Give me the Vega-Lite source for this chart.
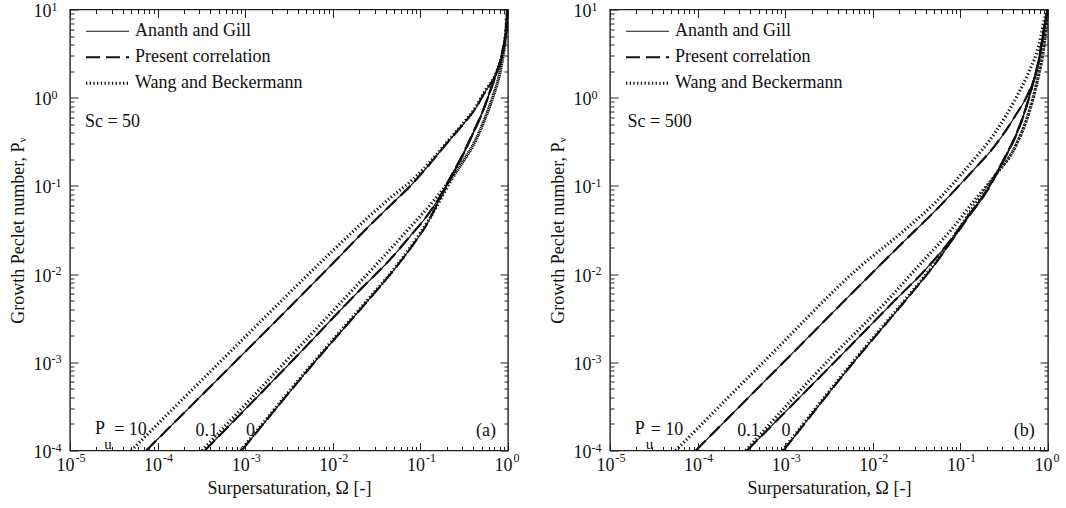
{
  "$schema": "https://vega.github.io/schema/vega-lite/v6.json",
  "background": "white",
  "padding": {"left": 8, "top": -1.5, "right": 5, "bottom": 5},
  "spacing": 28,
  "config": {
    "view": {"stroke": "#222", "strokeWidth": 1.4},
    "font": "Liberation Serif",
    "axis": {"labelFont": "Liberation Serif", "titleFont": "Liberation Serif", "labelFontSize": 18, "titleFontSize": 18, "titleFontWeight": "normal", "labelColor": "#111", "titleColor": "#111", "tickColor": "#222", "grid": false, "domain": false, "labelFlush": false, "labelOverlap": false, "labelBound": false},
    "legend": {"labelFont": "Liberation Serif", "labelFontSize": 18, "labelColor": "#111", "labelLimit": 0}
  },
  "datasets": {
    "curves": [
      {"Sc":50,"method":"Ananth and Gill","Pu":"10","omega":7.41e-5,"Pv":1e-4},
      {"Sc":50,"method":"Ananth and Gill","Pu":"10","omega":7.94e-4,"Pv":1.047e-3},
      {"Sc":50,"method":"Ananth and Gill","Pu":"10","omega":8.91e-3,"Pv":1.175e-2},
      {"Sc":50,"method":"Ananth and Gill","Pu":"10","omega":2.818e-2,"Pv":3.8e-2},
      {"Sc":50,"method":"Ananth and Gill","Pu":"10","omega":5.13e-2,"Pv":6.76e-2},
      {"Sc":50,"method":"Ananth and Gill","Pu":"10","omega":7.94e-2,"Pv":0.1035},
      {"Sc":50,"method":"Ananth and Gill","Pu":"10","omega":0.1259,"Pv":0.1738},
      {"Sc":50,"method":"Ananth and Gill","Pu":"10","omega":0.195,"Pv":0.295},
      {"Sc":50,"method":"Ananth and Gill","Pu":"10","omega":0.302,"Pv":0.49},
      {"Sc":50,"method":"Ananth and Gill","Pu":"10","omega":0.427,"Pv":0.759},
      {"Sc":50,"method":"Ananth and Gill","Pu":"10","omega":0.55,"Pv":1.175},
      {"Sc":50,"method":"Ananth and Gill","Pu":"10","omega":0.724,"Pv":1.82},
      {"Sc":50,"method":"Ananth and Gill","Pu":"10","omega":0.861,"Pv":3.09},
      {"Sc":50,"method":"Ananth and Gill","Pu":"10","omega":0.955,"Pv":6.31},
      {"Sc":50,"method":"Ananth and Gill","Pu":"10","omega":0.9886,"Pv":10},
      {"Sc":50,"method":"Ananth and Gill","Pu":"0.1","omega":3.467e-4,"Pv":1e-4},
      {"Sc":50,"method":"Ananth and Gill","Pu":"0.1","omega":3.548e-3,"Pv":1.072e-3},
      {"Sc":50,"method":"Ananth and Gill","Pu":"0.1","omega":2.153e-2,"Pv":6.98e-3},
      {"Sc":50,"method":"Ananth and Gill","Pu":"0.1","omega":4.365e-2,"Pv":1.413e-2},
      {"Sc":50,"method":"Ananth and Gill","Pu":"0.1","omega":7.94e-2,"Pv":2.818e-2},
      {"Sc":50,"method":"Ananth and Gill","Pu":"0.1","omega":0.1148,"Pv":4.365e-2},
      {"Sc":50,"method":"Ananth and Gill","Pu":"0.1","omega":0.1622,"Pv":7.24e-2},
      {"Sc":50,"method":"Ananth and Gill","Pu":"0.1","omega":0.2291,"Pv":0.1349},
      {"Sc":50,"method":"Ananth and Gill","Pu":"0.1","omega":0.302,"Pv":0.2239},
      {"Sc":50,"method":"Ananth and Gill","Pu":"0.1","omega":0.389,"Pv":0.38},
      {"Sc":50,"method":"Ananth and Gill","Pu":"0.1","omega":0.513,"Pv":0.7},
      {"Sc":50,"method":"Ananth and Gill","Pu":"0.1","omega":0.603,"Pv":1.081},
      {"Sc":50,"method":"Ananth and Gill","Pu":"0.1","omega":0.724,"Pv":1.82},
      {"Sc":50,"method":"Ananth and Gill","Pu":"0.1","omega":0.861,"Pv":3.31},
      {"Sc":50,"method":"Ananth and Gill","Pu":"0.1","omega":0.977,"Pv":7.24},
      {"Sc":50,"method":"Ananth and Gill","Pu":"0.1","omega":0.993,"Pv":10},
      {"Sc":50,"method":"Ananth and Gill","Pu":"0","omega":9.12e-4,"Pv":1e-4},
      {"Sc":50,"method":"Ananth and Gill","Pu":"0","omega":6.17e-3,"Pv":1e-3},
      {"Sc":50,"method":"Ananth and Gill","Pu":"0","omega":2.57e-2,"Pv":5.13e-3},
      {"Sc":50,"method":"Ananth and Gill","Pu":"0","omega":5.19e-2,"Pv":1.175e-2},
      {"Sc":50,"method":"Ananth and Gill","Pu":"0","omega":8.77e-2,"Pv":2.344e-2},
      {"Sc":50,"method":"Ananth and Gill","Pu":"0","omega":0.1175,"Pv":3.63e-2},
      {"Sc":50,"method":"Ananth and Gill","Pu":"0","omega":0.166,"Pv":7.08e-2},
      {"Sc":50,"method":"Ananth and Gill","Pu":"0","omega":0.2317,"Pv":0.1318},
      {"Sc":50,"method":"Ananth and Gill","Pu":"0","omega":0.305,"Pv":0.222},
      {"Sc":50,"method":"Ananth and Gill","Pu":"0","omega":0.392,"Pv":0.378},
      {"Sc":50,"method":"Ananth and Gill","Pu":"0","omega":0.516,"Pv":0.698},
      {"Sc":50,"method":"Ananth and Gill","Pu":"0","omega":0.606,"Pv":1.078},
      {"Sc":50,"method":"Ananth and Gill","Pu":"0","omega":0.727,"Pv":1.81},
      {"Sc":50,"method":"Ananth and Gill","Pu":"0","omega":0.863,"Pv":3.29},
      {"Sc":50,"method":"Ananth and Gill","Pu":"0","omega":0.978,"Pv":7.2},
      {"Sc":50,"method":"Ananth and Gill","Pu":"0","omega":0.994,"Pv":10},

      {"Sc":50,"method":"Present correlation","Pu":"10","omega":7.41e-5,"Pv":1e-4},
      {"Sc":50,"method":"Present correlation","Pu":"10","omega":7.94e-4,"Pv":1.047e-3},
      {"Sc":50,"method":"Present correlation","Pu":"10","omega":8.91e-3,"Pv":1.175e-2},
      {"Sc":50,"method":"Present correlation","Pu":"10","omega":2.818e-2,"Pv":3.8e-2},
      {"Sc":50,"method":"Present correlation","Pu":"10","omega":5.13e-2,"Pv":6.76e-2},
      {"Sc":50,"method":"Present correlation","Pu":"10","omega":7.94e-2,"Pv":0.1035},
      {"Sc":50,"method":"Present correlation","Pu":"10","omega":0.1259,"Pv":0.1738},
      {"Sc":50,"method":"Present correlation","Pu":"10","omega":0.195,"Pv":0.295},
      {"Sc":50,"method":"Present correlation","Pu":"10","omega":0.302,"Pv":0.49},
      {"Sc":50,"method":"Present correlation","Pu":"10","omega":0.427,"Pv":0.759},
      {"Sc":50,"method":"Present correlation","Pu":"10","omega":0.55,"Pv":1.175},
      {"Sc":50,"method":"Present correlation","Pu":"10","omega":0.724,"Pv":1.82},
      {"Sc":50,"method":"Present correlation","Pu":"10","omega":0.861,"Pv":3.09},
      {"Sc":50,"method":"Present correlation","Pu":"10","omega":0.955,"Pv":6.31},
      {"Sc":50,"method":"Present correlation","Pu":"10","omega":0.9886,"Pv":10},
      {"Sc":50,"method":"Present correlation","Pu":"0.1","omega":3.467e-4,"Pv":1e-4},
      {"Sc":50,"method":"Present correlation","Pu":"0.1","omega":3.548e-3,"Pv":1.072e-3},
      {"Sc":50,"method":"Present correlation","Pu":"0.1","omega":2.153e-2,"Pv":6.98e-3},
      {"Sc":50,"method":"Present correlation","Pu":"0.1","omega":4.365e-2,"Pv":1.413e-2},
      {"Sc":50,"method":"Present correlation","Pu":"0.1","omega":7.94e-2,"Pv":2.818e-2},
      {"Sc":50,"method":"Present correlation","Pu":"0.1","omega":0.1148,"Pv":4.365e-2},
      {"Sc":50,"method":"Present correlation","Pu":"0.1","omega":0.1622,"Pv":7.24e-2},
      {"Sc":50,"method":"Present correlation","Pu":"0.1","omega":0.2291,"Pv":0.1349},
      {"Sc":50,"method":"Present correlation","Pu":"0.1","omega":0.302,"Pv":0.2239},
      {"Sc":50,"method":"Present correlation","Pu":"0.1","omega":0.389,"Pv":0.38},
      {"Sc":50,"method":"Present correlation","Pu":"0.1","omega":0.513,"Pv":0.7},
      {"Sc":50,"method":"Present correlation","Pu":"0.1","omega":0.603,"Pv":1.081},
      {"Sc":50,"method":"Present correlation","Pu":"0.1","omega":0.724,"Pv":1.82},
      {"Sc":50,"method":"Present correlation","Pu":"0.1","omega":0.861,"Pv":3.31},
      {"Sc":50,"method":"Present correlation","Pu":"0.1","omega":0.977,"Pv":7.24},
      {"Sc":50,"method":"Present correlation","Pu":"0.1","omega":0.993,"Pv":10},
      {"Sc":50,"method":"Present correlation","Pu":"0","omega":9.12e-4,"Pv":1e-4},
      {"Sc":50,"method":"Present correlation","Pu":"0","omega":6.17e-3,"Pv":1e-3},
      {"Sc":50,"method":"Present correlation","Pu":"0","omega":2.57e-2,"Pv":5.13e-3},
      {"Sc":50,"method":"Present correlation","Pu":"0","omega":5.19e-2,"Pv":1.175e-2},
      {"Sc":50,"method":"Present correlation","Pu":"0","omega":8.77e-2,"Pv":2.344e-2},
      {"Sc":50,"method":"Present correlation","Pu":"0","omega":0.1175,"Pv":3.63e-2},
      {"Sc":50,"method":"Present correlation","Pu":"0","omega":0.166,"Pv":7.08e-2},
      {"Sc":50,"method":"Present correlation","Pu":"0","omega":0.2317,"Pv":0.1318},
      {"Sc":50,"method":"Present correlation","Pu":"0","omega":0.305,"Pv":0.222},
      {"Sc":50,"method":"Present correlation","Pu":"0","omega":0.392,"Pv":0.378},
      {"Sc":50,"method":"Present correlation","Pu":"0","omega":0.516,"Pv":0.698},
      {"Sc":50,"method":"Present correlation","Pu":"0","omega":0.606,"Pv":1.078},
      {"Sc":50,"method":"Present correlation","Pu":"0","omega":0.727,"Pv":1.81},
      {"Sc":50,"method":"Present correlation","Pu":"0","omega":0.863,"Pv":3.29},
      {"Sc":50,"method":"Present correlation","Pu":"0","omega":0.978,"Pv":7.2},
      {"Sc":50,"method":"Present correlation","Pu":"0","omega":0.994,"Pv":10},

      {"Sc":50,"method":"Wang and Beckermann","Pu":"10","omega":5.01e-5,"Pv":1e-4},
      {"Sc":50,"method":"Wang and Beckermann","Pu":"10","omega":7.08e-4,"Pv":1.38e-3},
      {"Sc":50,"method":"Wang and Beckermann","Pu":"10","omega":9.77e-3,"Pv":1.803e-2},
      {"Sc":50,"method":"Wang and Beckermann","Pu":"10","omega":2.512e-2,"Pv":4.365e-2},
      {"Sc":50,"method":"Wang and Beckermann","Pu":"10","omega":5.01e-2,"Pv":7.94e-2},
      {"Sc":50,"method":"Wang and Beckermann","Pu":"10","omega":7.94e-2,"Pv":0.1148},
      {"Sc":50,"method":"Wang and Beckermann","Pu":"10","omega":0.1259,"Pv":0.182},
      {"Sc":50,"method":"Wang and Beckermann","Pu":"10","omega":0.195,"Pv":0.302},
      {"Sc":50,"method":"Wang and Beckermann","Pu":"10","omega":0.302,"Pv":0.501},
      {"Sc":50,"method":"Wang and Beckermann","Pu":"10","omega":0.427,"Pv":0.776},
      {"Sc":50,"method":"Wang and Beckermann","Pu":"10","omega":0.55,"Pv":1.202},
      {"Sc":50,"method":"Wang and Beckermann","Pu":"10","omega":0.724,"Pv":1.862},
      {"Sc":50,"method":"Wang and Beckermann","Pu":"10","omega":0.861,"Pv":3.16},
      {"Sc":50,"method":"Wang and Beckermann","Pu":"10","omega":0.955,"Pv":6.31},
      {"Sc":50,"method":"Wang and Beckermann","Pu":"10","omega":0.9886,"Pv":10},
      {"Sc":50,"method":"Wang and Beckermann","Pu":"0.1","omega":3.236e-4,"Pv":1e-4},
      {"Sc":50,"method":"Wang and Beckermann","Pu":"0.1","omega":3.162e-3,"Pv":1.122e-3},
      {"Sc":50,"method":"Wang and Beckermann","Pu":"0.1","omega":1.413e-2,"Pv":5.5e-3},
      {"Sc":50,"method":"Wang and Beckermann","Pu":"0.1","omega":3.98e-2,"Pv":1.66e-2},
      {"Sc":50,"method":"Wang and Beckermann","Pu":"0.1","omega":7.94e-2,"Pv":3.548e-2},
      {"Sc":50,"method":"Wang and Beckermann","Pu":"0.1","omega":0.1413,"Pv":6.76e-2},
      {"Sc":50,"method":"Wang and Beckermann","Pu":"0.1","omega":0.2188,"Pv":0.1175},
      {"Sc":50,"method":"Wang and Beckermann","Pu":"0.1","omega":0.3162,"Pv":0.1995},
      {"Sc":50,"method":"Wang and Beckermann","Pu":"0.1","omega":0.417,"Pv":0.3162},
      {"Sc":50,"method":"Wang and Beckermann","Pu":"0.1","omega":0.537,"Pv":0.562},
      {"Sc":50,"method":"Wang and Beckermann","Pu":"0.1","omega":0.676,"Pv":1.047},
      {"Sc":50,"method":"Wang and Beckermann","Pu":"0.1","omega":0.813,"Pv":1.995},
      {"Sc":50,"method":"Wang and Beckermann","Pu":"0.1","omega":0.912,"Pv":3.98},
      {"Sc":50,"method":"Wang and Beckermann","Pu":"0.1","omega":0.977,"Pv":7.94},
      {"Sc":50,"method":"Wang and Beckermann","Pu":"0.1","omega":0.993,"Pv":10},
      {"Sc":50,"method":"Wang and Beckermann","Pu":"0","omega":8.91e-4,"Pv":1e-4},
      {"Sc":50,"method":"Wang and Beckermann","Pu":"0","omega":6.03e-3,"Pv":1e-3},
      {"Sc":50,"method":"Wang and Beckermann","Pu":"0","omega":2.512e-2,"Pv":5.13e-3},
      {"Sc":50,"method":"Wang and Beckermann","Pu":"0","omega":5.13e-2,"Pv":1.175e-2},
      {"Sc":50,"method":"Wang and Beckermann","Pu":"0","omega":8.71e-2,"Pv":2.4e-2},
      {"Sc":50,"method":"Wang and Beckermann","Pu":"0","omega":0.1259,"Pv":4.17e-2},
      {"Sc":50,"method":"Wang and Beckermann","Pu":"0","omega":0.166,"Pv":6.76e-2},
      {"Sc":50,"method":"Wang and Beckermann","Pu":"0","omega":0.229,"Pv":0.1202},
      {"Sc":50,"method":"Wang and Beckermann","Pu":"0","omega":0.3199,"Pv":0.1995},
      {"Sc":50,"method":"Wang and Beckermann","Pu":"0","omega":0.421,"Pv":0.3162},
      {"Sc":50,"method":"Wang and Beckermann","Pu":"0","omega":0.541,"Pv":0.562},
      {"Sc":50,"method":"Wang and Beckermann","Pu":"0","omega":0.68,"Pv":1.047},
      {"Sc":50,"method":"Wang and Beckermann","Pu":"0","omega":0.816,"Pv":1.995},
      {"Sc":50,"method":"Wang and Beckermann","Pu":"0","omega":0.914,"Pv":3.98},
      {"Sc":50,"method":"Wang and Beckermann","Pu":"0","omega":0.978,"Pv":7.94},
      {"Sc":50,"method":"Wang and Beckermann","Pu":"0","omega":0.994,"Pv":10},

      {"Sc":500,"method":"Ananth and Gill","Pu":"10","omega":9.55e-5,"Pv":1e-4},
      {"Sc":500,"method":"Ananth and Gill","Pu":"10","omega":9.55e-4,"Pv":1e-3},
      {"Sc":500,"method":"Ananth and Gill","Pu":"10","omega":9.55e-3,"Pv":1e-2},
      {"Sc":500,"method":"Ananth and Gill","Pu":"10","omega":2.208e-2,"Pv":2.29e-2},
      {"Sc":500,"method":"Ananth and Gill","Pu":"10","omega":5.3e-2,"Pv":5.37e-2},
      {"Sc":500,"method":"Ananth and Gill","Pu":"10","omega":0.1265,"Pv":0.135},
      {"Sc":500,"method":"Ananth and Gill","Pu":"10","omega":0.254,"Pv":0.295},
      {"Sc":500,"method":"Ananth and Gill","Pu":"10","omega":0.43,"Pv":0.64},
      {"Sc":500,"method":"Ananth and Gill","Pu":"10","omega":0.608,"Pv":1.175},
      {"Sc":500,"method":"Ananth and Gill","Pu":"10","omega":0.757,"Pv":2.163},
      {"Sc":500,"method":"Ananth and Gill","Pu":"10","omega":0.863,"Pv":4.335},
      {"Sc":500,"method":"Ananth and Gill","Pu":"10","omega":0.982,"Pv":9.49},
      {"Sc":500,"method":"Ananth and Gill","Pu":"10","omega":0.993,"Pv":10},
      {"Sc":500,"method":"Ananth and Gill","Pu":"0.1","omega":3.67e-4,"Pv":1e-4},
      {"Sc":500,"method":"Ananth and Gill","Pu":"0.1","omega":3.715e-3,"Pv":1.023e-3},
      {"Sc":500,"method":"Ananth and Gill","Pu":"0.1","omega":1.778e-2,"Pv":5.01e-3},
      {"Sc":500,"method":"Ananth and Gill","Pu":"0.1","omega":3.98e-2,"Pv":1.122e-2},
      {"Sc":500,"method":"Ananth and Gill","Pu":"0.1","omega":7.94e-2,"Pv":2.512e-2},
      {"Sc":500,"method":"Ananth and Gill","Pu":"0.1","omega":0.1202,"Pv":4.467e-2},
      {"Sc":500,"method":"Ananth and Gill","Pu":"0.1","omega":0.196,"Pv":8.65e-2},
      {"Sc":500,"method":"Ananth and Gill","Pu":"0.1","omega":0.303,"Pv":0.1892},
      {"Sc":500,"method":"Ananth and Gill","Pu":"0.1","omega":0.43,"Pv":0.379},
      {"Sc":500,"method":"Ananth and Gill","Pu":"0.1","omega":0.557,"Pv":0.76},
      {"Sc":500,"method":"Ananth and Gill","Pu":"0.1","omega":0.664,"Pv":1.4},
      {"Sc":500,"method":"Ananth and Gill","Pu":"0.1","omega":0.791,"Pv":2.805},
      {"Sc":500,"method":"Ananth and Gill","Pu":"0.1","omega":0.902,"Pv":6.17},
      {"Sc":500,"method":"Ananth and Gill","Pu":"0.1","omega":0.993,"Pv":10},
      {"Sc":500,"method":"Ananth and Gill","Pu":"0","omega":9.55e-4,"Pv":1e-4},
      {"Sc":500,"method":"Ananth and Gill","Pu":"0","omega":6.03e-3,"Pv":1e-3},
      {"Sc":500,"method":"Ananth and Gill","Pu":"0","omega":2.399e-2,"Pv":5.13e-3},
      {"Sc":500,"method":"Ananth and Gill","Pu":"0","omega":5.01e-2,"Pv":1.259e-2},
      {"Sc":500,"method":"Ananth and Gill","Pu":"0","omega":8.51e-2,"Pv":2.63e-2},
      {"Sc":500,"method":"Ananth and Gill","Pu":"0","omega":0.1259,"Pv":4.57e-2},
      {"Sc":500,"method":"Ananth and Gill","Pu":"0","omega":0.199,"Pv":8.6e-2},
      {"Sc":500,"method":"Ananth and Gill","Pu":"0","omega":0.306,"Pv":0.188},
      {"Sc":500,"method":"Ananth and Gill","Pu":"0","omega":0.433,"Pv":0.377},
      {"Sc":500,"method":"Ananth and Gill","Pu":"0","omega":0.56,"Pv":0.757},
      {"Sc":500,"method":"Ananth and Gill","Pu":"0","omega":0.667,"Pv":1.39},
      {"Sc":500,"method":"Ananth and Gill","Pu":"0","omega":0.793,"Pv":2.79},
      {"Sc":500,"method":"Ananth and Gill","Pu":"0","omega":0.903,"Pv":6.1},
      {"Sc":500,"method":"Ananth and Gill","Pu":"0","omega":0.994,"Pv":10},

      {"Sc":500,"method":"Present correlation","Pu":"10","omega":9.55e-5,"Pv":1e-4},
      {"Sc":500,"method":"Present correlation","Pu":"10","omega":9.55e-4,"Pv":1e-3},
      {"Sc":500,"method":"Present correlation","Pu":"10","omega":9.55e-3,"Pv":1e-2},
      {"Sc":500,"method":"Present correlation","Pu":"10","omega":2.208e-2,"Pv":2.29e-2},
      {"Sc":500,"method":"Present correlation","Pu":"10","omega":5.3e-2,"Pv":5.37e-2},
      {"Sc":500,"method":"Present correlation","Pu":"10","omega":0.1265,"Pv":0.135},
      {"Sc":500,"method":"Present correlation","Pu":"10","omega":0.254,"Pv":0.295},
      {"Sc":500,"method":"Present correlation","Pu":"10","omega":0.43,"Pv":0.64},
      {"Sc":500,"method":"Present correlation","Pu":"10","omega":0.608,"Pv":1.175},
      {"Sc":500,"method":"Present correlation","Pu":"10","omega":0.757,"Pv":2.163},
      {"Sc":500,"method":"Present correlation","Pu":"10","omega":0.863,"Pv":4.335},
      {"Sc":500,"method":"Present correlation","Pu":"10","omega":0.982,"Pv":9.49},
      {"Sc":500,"method":"Present correlation","Pu":"10","omega":0.993,"Pv":10},
      {"Sc":500,"method":"Present correlation","Pu":"0.1","omega":3.67e-4,"Pv":1e-4},
      {"Sc":500,"method":"Present correlation","Pu":"0.1","omega":3.715e-3,"Pv":1.023e-3},
      {"Sc":500,"method":"Present correlation","Pu":"0.1","omega":1.778e-2,"Pv":5.01e-3},
      {"Sc":500,"method":"Present correlation","Pu":"0.1","omega":3.98e-2,"Pv":1.122e-2},
      {"Sc":500,"method":"Present correlation","Pu":"0.1","omega":7.94e-2,"Pv":2.512e-2},
      {"Sc":500,"method":"Present correlation","Pu":"0.1","omega":0.1202,"Pv":4.467e-2},
      {"Sc":500,"method":"Present correlation","Pu":"0.1","omega":0.196,"Pv":8.65e-2},
      {"Sc":500,"method":"Present correlation","Pu":"0.1","omega":0.303,"Pv":0.1892},
      {"Sc":500,"method":"Present correlation","Pu":"0.1","omega":0.43,"Pv":0.379},
      {"Sc":500,"method":"Present correlation","Pu":"0.1","omega":0.557,"Pv":0.76},
      {"Sc":500,"method":"Present correlation","Pu":"0.1","omega":0.664,"Pv":1.4},
      {"Sc":500,"method":"Present correlation","Pu":"0.1","omega":0.791,"Pv":2.805},
      {"Sc":500,"method":"Present correlation","Pu":"0.1","omega":0.902,"Pv":6.17},
      {"Sc":500,"method":"Present correlation","Pu":"0.1","omega":0.993,"Pv":10},
      {"Sc":500,"method":"Present correlation","Pu":"0","omega":9.55e-4,"Pv":1e-4},
      {"Sc":500,"method":"Present correlation","Pu":"0","omega":6.03e-3,"Pv":1e-3},
      {"Sc":500,"method":"Present correlation","Pu":"0","omega":2.399e-2,"Pv":5.13e-3},
      {"Sc":500,"method":"Present correlation","Pu":"0","omega":5.01e-2,"Pv":1.259e-2},
      {"Sc":500,"method":"Present correlation","Pu":"0","omega":8.51e-2,"Pv":2.63e-2},
      {"Sc":500,"method":"Present correlation","Pu":"0","omega":0.1259,"Pv":4.57e-2},
      {"Sc":500,"method":"Present correlation","Pu":"0","omega":0.199,"Pv":8.6e-2},
      {"Sc":500,"method":"Present correlation","Pu":"0","omega":0.306,"Pv":0.188},
      {"Sc":500,"method":"Present correlation","Pu":"0","omega":0.433,"Pv":0.377},
      {"Sc":500,"method":"Present correlation","Pu":"0","omega":0.56,"Pv":0.757},
      {"Sc":500,"method":"Present correlation","Pu":"0","omega":0.667,"Pv":1.39},
      {"Sc":500,"method":"Present correlation","Pu":"0","omega":0.793,"Pv":2.79},
      {"Sc":500,"method":"Present correlation","Pu":"0","omega":0.903,"Pv":6.1},
      {"Sc":500,"method":"Present correlation","Pu":"0","omega":0.994,"Pv":10},

      {"Sc":500,"method":"Wang and Beckermann","Pu":"10","omega":5.62e-5,"Pv":1e-4},
      {"Sc":500,"method":"Wang and Beckermann","Pu":"10","omega":6.31e-4,"Pv":1.122e-3},
      {"Sc":500,"method":"Wang and Beckermann","Pu":"10","omega":7.08e-3,"Pv":1.202e-2},
      {"Sc":500,"method":"Wang and Beckermann","Pu":"10","omega":2.208e-2,"Pv":3.04e-2},
      {"Sc":500,"method":"Wang and Beckermann","Pu":"10","omega":5.3e-2,"Pv":6.65e-2},
      {"Sc":500,"method":"Wang and Beckermann","Pu":"10","omega":0.1265,"Pv":0.1734},
      {"Sc":500,"method":"Wang and Beckermann","Pu":"10","omega":0.254,"Pv":0.414},
      {"Sc":500,"method":"Wang and Beckermann","Pu":"10","omega":0.43,"Pv":0.989},
      {"Sc":500,"method":"Wang and Beckermann","Pu":"10","omega":0.608,"Pv":1.98},
      {"Sc":500,"method":"Wang and Beckermann","Pu":"10","omega":0.791,"Pv":3.98},
      {"Sc":500,"method":"Wang and Beckermann","Pu":"10","omega":0.94,"Pv":8.71},
      {"Sc":500,"method":"Wang and Beckermann","Pu":"10","omega":0.993,"Pv":10},
      {"Sc":500,"method":"Wang and Beckermann","Pu":"0.1","omega":3.548e-4,"Pv":1e-4},
      {"Sc":500,"method":"Wang and Beckermann","Pu":"0.1","omega":3.311e-3,"Pv":1.122e-3},
      {"Sc":500,"method":"Wang and Beckermann","Pu":"0.1","omega":1.493e-2,"Pv":5.13e-3},
      {"Sc":500,"method":"Wang and Beckermann","Pu":"0.1","omega":3.42e-2,"Pv":1.276e-2},
      {"Sc":500,"method":"Wang and Beckermann","Pu":"0.1","omega":8.13e-2,"Pv":3.31e-2},
      {"Sc":500,"method":"Wang and Beckermann","Pu":"0.1","omega":0.163,"Pv":7.94e-2},
      {"Sc":500,"method":"Wang and Beckermann","Pu":"0.1","omega":0.254,"Pv":0.1337},
      {"Sc":500,"method":"Wang and Beckermann","Pu":"0.1","omega":0.43,"Pv":0.288},
      {"Sc":500,"method":"Wang and Beckermann","Pu":"0.1","omega":0.608,"Pv":0.692},
      {"Sc":500,"method":"Wang and Beckermann","Pu":"0.1","omega":0.757,"Pv":1.585},
      {"Sc":500,"method":"Wang and Beckermann","Pu":"0.1","omega":0.902,"Pv":3.98},
      {"Sc":500,"method":"Wang and Beckermann","Pu":"0.1","omega":0.973,"Pv":7.94},
      {"Sc":500,"method":"Wang and Beckermann","Pu":"0.1","omega":0.995,"Pv":10},
      {"Sc":500,"method":"Wang and Beckermann","Pu":"0","omega":9.33e-4,"Pv":1e-4},
      {"Sc":500,"method":"Wang and Beckermann","Pu":"0","omega":5.89e-3,"Pv":1e-3},
      {"Sc":500,"method":"Wang and Beckermann","Pu":"0","omega":2.344e-2,"Pv":5.13e-3},
      {"Sc":500,"method":"Wang and Beckermann","Pu":"0","omega":4.898e-2,"Pv":1.259e-2},
      {"Sc":500,"method":"Wang and Beckermann","Pu":"0","omega":8.32e-2,"Pv":2.63e-2},
      {"Sc":500,"method":"Wang and Beckermann","Pu":"0","omega":0.138,"Pv":5.62e-2},
      {"Sc":500,"method":"Wang and Beckermann","Pu":"0","omega":0.24,"Pv":0.1259},
      {"Sc":500,"method":"Wang and Beckermann","Pu":"0","omega":0.432,"Pv":0.29},
      {"Sc":500,"method":"Wang and Beckermann","Pu":"0","omega":0.61,"Pv":0.69},
      {"Sc":500,"method":"Wang and Beckermann","Pu":"0","omega":0.759,"Pv":1.58},
      {"Sc":500,"method":"Wang and Beckermann","Pu":"0","omega":0.903,"Pv":3.97},
      {"Sc":500,"method":"Wang and Beckermann","Pu":"0","omega":0.974,"Pv":7.9},
      {"Sc":500,"method":"Wang and Beckermann","Pu":"0","omega":0.995,"Pv":10}
    ],
    "notes": [
      {"Sc":50,"kind":"tag","label":"P","omega":2.2e-5,"Pv":1.74e-4},
      {"Sc":50,"kind":"sub","label":"u","omega":2.72e-5,"Pv":1.175e-4},
      {"Sc":50,"kind":"tag","label":"= 10","omega":4.9e-5,"Pv":1.7e-4},
      {"Sc":50,"kind":"tag","label":"0.1","omega":3.63e-4,"Pv":1.66e-4},
      {"Sc":50,"kind":"tag","label":"0","omega":1.148e-3,"Pv":1.66e-4},
      {"Sc":50,"kind":"tag","label":"(a)","omega":0.562,"Pv":1.66e-4},
      {"Sc":50,"kind":"sc","label":"Sc = 50","omega":1.479e-5,"Pv":0.525},
      {"Sc":500,"kind":"tag","label":"P","omega":2.19e-5,"Pv":1.74e-4},
      {"Sc":500,"kind":"sub","label":"u","omega":2.82e-5,"Pv":1.175e-4},
      {"Sc":500,"kind":"tag","label":"= 10","omega":4.47e-5,"Pv":1.7e-4},
      {"Sc":500,"kind":"tag","label":"0.1","omega":3.8e-4,"Pv":1.66e-4},
      {"Sc":500,"kind":"tag","label":"0","omega":1.023e-3,"Pv":1.66e-4},
      {"Sc":500,"kind":"tag","label":"(b)","omega":0.537,"Pv":1.66e-4},
      {"Sc":500,"kind":"sc","label":"Sc = 500","omega":1.585e-5,"Pv":0.525}
    ]
  },
  "resolve": {"scale": {"strokeDash": "independent", "strokeWidth": "independent"}, "legend": {"strokeDash": "independent", "strokeWidth": "independent"}},
  "hconcat": [
    {
      "width": 438, "height": 441,
      "data": {"name": "curves"},
      "resolve": {"axis": {"x": "independent", "y": "independent"}},
      "layer": [
        {
          "transform": [{"filter": "datum.Sc == 50 && datum.method == 'Ananth and Gill'"}],
          "mark": {"type": "line", "color": "#111", "interpolate": "monotone", "clip": true},
          "encoding": {
            "x": {"field": "omega", "type": "quantitative", "scale": {"type": "log", "domain": [1e-5, 1], "nice": false},
              "axis": {"orient": "bottom", "values": [1e-5, 1e-4, 1e-3, 1e-2, 1e-1, 1], "ticks": false, "labelExpr": "'10'", "labelOffset": -5, "labelPadding": 6, "title": "Surpersaturation, Ω [-]", "titlePadding": 5}},
            "y": {"field": "Pv", "type": "quantitative", "scale": {"type": "log", "domain": [1e-4, 10], "nice": false},
              "axis": {"orient": "left", "values": [1e-4, 1e-3, 1e-2, 1e-1, 1, 10], "ticks": false, "labelExpr": "'10'", "labelAlign": "left", "labelPadding": 37, "labelOffset": 2, "title": "Growth Peclet number, Pᵥ", "titlePadding": 6}},
            "detail": {"field": "Pu"},
            "strokeDash": {"field": "method", "type": "ordinal", "scale": {"domain": ["Ananth and Gill", "Present correlation", "Wang and Beckermann"], "range": [[1, 0], [14, 6], [1.3, 2.4]]},
              "legend": {"orient": "none", "legendX": 14, "legendY": 10, "title": null, "symbolType": "stroke", "symbolSize": 1850, "symbolStrokeColor": "#111", "clipHeight": 23.5, "rowPadding": 2, "labelOffset": 4, "padding": 0, "labelLimit": 0,
                "encode": {"symbols": {"update": {"strokeWidth": {"signal": "datum.value === 'Present correlation' ? 3.2 : 1.2"}}}}}},
            "strokeWidth": {"field": "method", "type": "ordinal", "scale": {"domain": ["Ananth and Gill", "Present correlation", "Wang and Beckermann"], "range": [1.2, 3.2, 1.2]},
              "legend": {"orient": "none", "legendX": 14, "legendY": 10, "title": null, "symbolType": "stroke", "symbolSize": 1850, "symbolStrokeColor": "#111", "clipHeight": 23.5, "rowPadding": 2, "labelOffset": 4, "padding": 0, "labelLimit": 0,
                "encode": {"symbols": {"update": {"strokeWidth": {"signal": "datum.value === 'Present correlation' ? 3.2 : 1.2"}}}}}}
          }
        },
        {
          "transform": [{"filter": "datum.Sc == 50 && datum.method == 'Present correlation'"}],
          "mark": {"type": "line", "color": "#111", "interpolate": "monotone", "clip": true},
          "encoding": {
            "x": {"field": "omega", "type": "quantitative", "scale": {"type": "log", "domain": [1e-5, 1], "nice": false},
              "axis": {"orient": "bottom", "values": [1e-5,2e-5,3e-5,4e-5,5e-5,6e-5,7e-5,8e-5,9e-5,1e-4,2e-4,3e-4,4e-4,5e-4,6e-4,7e-4,8e-4,9e-4,1e-3,2e-3,3e-3,4e-3,5e-3,6e-3,7e-3,8e-3,9e-3,1e-2,2e-2,3e-2,4e-2,5e-2,6e-2,7e-2,8e-2,9e-2,0.1,0.2,0.3,0.4,0.5,0.6,0.7,0.8,0.9,1], "labels": false, "title": null, "ticks": true, "tickSize": {"condition": {"test": "abs(log(datum.value)/LN10 - round(log(datum.value)/LN10)) < 0.01", "value": -8}, "value": -4}}},
            "y": {"field": "Pv", "type": "quantitative", "scale": {"type": "log", "domain": [1e-4, 10], "nice": false},
              "axis": {"orient": "left", "values": [1e-4,2e-4,3e-4,4e-4,5e-4,6e-4,7e-4,8e-4,9e-4,1e-3,2e-3,3e-3,4e-3,5e-3,6e-3,7e-3,8e-3,9e-3,1e-2,2e-2,3e-2,4e-2,5e-2,6e-2,7e-2,8e-2,9e-2,0.1,0.2,0.3,0.4,0.5,0.6,0.7,0.8,0.9,1,2,3,4,5,6,7,8,9,10], "labels": false, "title": null, "ticks": true, "tickSize": {"condition": {"test": "abs(log(datum.value)/LN10 - round(log(datum.value)/LN10)) < 0.01", "value": -8}, "value": -4}}},
            "detail": {"field": "Pu"},
            "strokeDash": {"field": "method", "type": "ordinal", "scale": {"domain": ["Ananth and Gill", "Present correlation", "Wang and Beckermann"], "range": [[1, 0], [14, 6], [1.3, 2.4]]}},
            "strokeWidth": {"field": "method", "type": "ordinal", "scale": {"domain": ["Ananth and Gill", "Present correlation", "Wang and Beckermann"], "range": [1.2, 3.2, 1.2]}}
          }
        },
        {
          "transform": [{"filter": "datum.Sc == 50 && datum.method == 'Wang and Beckermann'"}],
          "mark": {"type": "line", "color": "#111", "interpolate": "monotone", "clip": true},
          "encoding": {
            "x": {"field": "omega", "type": "quantitative", "scale": {"type": "log", "domain": [1e-5, 1], "nice": false},
              "axis": {"orient": "top", "values": [1e-5,2e-5,3e-5,4e-5,5e-5,6e-5,7e-5,8e-5,9e-5,1e-4,2e-4,3e-4,4e-4,5e-4,6e-4,7e-4,8e-4,9e-4,1e-3,2e-3,3e-3,4e-3,5e-3,6e-3,7e-3,8e-3,9e-3,1e-2,2e-2,3e-2,4e-2,5e-2,6e-2,7e-2,8e-2,9e-2,0.1,0.2,0.3,0.4,0.5,0.6,0.7,0.8,0.9,1], "labels": false, "title": null, "ticks": true, "tickSize": {"condition": {"test": "abs(log(datum.value)/LN10 - round(log(datum.value)/LN10)) < 0.01", "value": -8}, "value": -4}}},
            "y": {"field": "Pv", "type": "quantitative", "scale": {"type": "log", "domain": [1e-4, 10], "nice": false},
              "axis": {"orient": "right", "values": [1e-4,2e-4,3e-4,4e-4,5e-4,6e-4,7e-4,8e-4,9e-4,1e-3,2e-3,3e-3,4e-3,5e-3,6e-3,7e-3,8e-3,9e-3,1e-2,2e-2,3e-2,4e-2,5e-2,6e-2,7e-2,8e-2,9e-2,0.1,0.2,0.3,0.4,0.5,0.6,0.7,0.8,0.9,1,2,3,4,5,6,7,8,9,10], "labels": false, "title": null, "ticks": true, "tickSize": {"condition": {"test": "abs(log(datum.value)/LN10 - round(log(datum.value)/LN10)) < 0.01", "value": -8}, "value": -4}}},
            "detail": {"field": "Pu"},
            "strokeDash": {"field": "method", "type": "ordinal", "scale": {"domain": ["Ananth and Gill", "Present correlation", "Wang and Beckermann"], "range": [[1, 0], [14, 6], [1.3, 2.4]]}},
            "strokeWidth": {"field": "method", "type": "ordinal", "scale": {"domain": ["Ananth and Gill", "Present correlation", "Wang and Beckermann"], "range": [1.2, 3.2, 1.2]}}
          }
        },
        {
          "data": {"name": "notes"},
          "transform": [{"filter": "datum.Sc == 50 && datum.kind == 'tag'"}],
          "mark": {"type": "text", "font": "Liberation Serif", "fontSize": 18, "color": "#111", "align": "center", "baseline": "middle"},
          "encoding": {
            "x": {"field": "omega", "type": "quantitative", "scale": {"type": "log", "domain": [1e-5, 1], "nice": false},
              "axis": {"orient": "bottom", "values": [1e-5, 1e-4, 1e-3, 1e-2, 1e-1, 1], "ticks": false, "labelExpr": "'' + round(log(datum.value)/LN10)", "labelAlign": "left", "labelOffset": 5, "labelPadding": 2, "labelFontSize": 12, "title": null}},
            "y": {"field": "Pv", "type": "quantitative", "scale": {"type": "log", "domain": [1e-4, 10], "nice": false},
              "axis": {"orient": "left", "values": [1e-4, 1e-3, 1e-2, 1e-1, 1, 10], "ticks": false, "labelExpr": "'' + round(log(datum.value)/LN10)", "labelAlign": "left", "labelPadding": 19, "labelOffset": -3.5, "labelFontSize": 12, "title": null}},
            "text": {"field": "label"}
          }
        },
        {
          "data": {"name": "notes"},
          "transform": [{"filter": "datum.Sc == 50 && datum.kind == 'sub'"}],
          "mark": {"type": "text", "font": "Liberation Serif", "fontSize": 15, "color": "#111", "align": "center", "baseline": "middle"},
          "encoding": {
            "x": {"field": "omega", "type": "quantitative", "scale": {"type": "log", "domain": [1e-5, 1], "nice": false}, "axis": null},
            "y": {"field": "Pv", "type": "quantitative", "scale": {"type": "log", "domain": [1e-4, 10], "nice": false}, "axis": null},
            "text": {"field": "label"}
          }
        },
        {
          "data": {"name": "notes"},
          "transform": [{"filter": "datum.Sc == 50 && datum.kind == 'sc'"}],
          "mark": {"type": "text", "font": "Liberation Serif", "fontSize": 18, "color": "#111", "align": "left", "baseline": "middle"},
          "encoding": {
            "x": {"field": "omega", "type": "quantitative", "scale": {"type": "log", "domain": [1e-5, 1], "nice": false}, "axis": null},
            "y": {"field": "Pv", "type": "quantitative", "scale": {"type": "log", "domain": [1e-4, 10], "nice": false}, "axis": null},
            "text": {"field": "label"}
          }
        }
      ]
    },
    {
      "width": 438, "height": 441,
      "data": {"name": "curves"},
      "resolve": {"axis": {"x": "independent", "y": "independent"}},
      "layer": [
        {
          "transform": [{"filter": "datum.Sc == 500 && datum.method == 'Ananth and Gill'"}],
          "mark": {"type": "line", "color": "#111", "interpolate": "monotone", "clip": true},
          "encoding": {
            "x": {"field": "omega", "type": "quantitative", "scale": {"type": "log", "domain": [1e-5, 1], "nice": false},
              "axis": {"orient": "bottom", "values": [1e-5, 1e-4, 1e-3, 1e-2, 1e-1, 1], "ticks": false, "labelExpr": "'10'", "labelOffset": -5, "labelPadding": 6, "title": "Surpersaturation, Ω [-]", "titlePadding": 5}},
            "y": {"field": "Pv", "type": "quantitative", "scale": {"type": "log", "domain": [1e-4, 10], "nice": false},
              "axis": {"orient": "left", "values": [1e-4, 1e-3, 1e-2, 1e-1, 1, 10], "ticks": false, "labelExpr": "'10'", "labelAlign": "left", "labelPadding": 37, "labelOffset": 2, "title": "Growth Peclet number, Pᵥ", "titlePadding": 6}},
            "detail": {"field": "Pu"},
            "strokeDash": {"field": "method", "type": "ordinal", "scale": {"domain": ["Ananth and Gill", "Present correlation", "Wang and Beckermann"], "range": [[1, 0], [14, 6], [1.3, 2.4]]},
              "legend": {"orient": "none", "legendX": 14, "legendY": 10, "title": null, "symbolType": "stroke", "symbolSize": 1850, "symbolStrokeColor": "#111", "clipHeight": 23.5, "rowPadding": 2, "labelOffset": 4, "padding": 0, "labelLimit": 0,
                "encode": {"symbols": {"update": {"strokeWidth": {"signal": "datum.value === 'Present correlation' ? 3.2 : 1.2"}}}}}},
            "strokeWidth": {"field": "method", "type": "ordinal", "scale": {"domain": ["Ananth and Gill", "Present correlation", "Wang and Beckermann"], "range": [1.2, 3.2, 1.2]},
              "legend": {"orient": "none", "legendX": 14, "legendY": 10, "title": null, "symbolType": "stroke", "symbolSize": 1850, "symbolStrokeColor": "#111", "clipHeight": 23.5, "rowPadding": 2, "labelOffset": 4, "padding": 0, "labelLimit": 0,
                "encode": {"symbols": {"update": {"strokeWidth": {"signal": "datum.value === 'Present correlation' ? 3.2 : 1.2"}}}}}}
          }
        },
        {
          "transform": [{"filter": "datum.Sc == 500 && datum.method == 'Present correlation'"}],
          "mark": {"type": "line", "color": "#111", "interpolate": "monotone", "clip": true},
          "encoding": {
            "x": {"field": "omega", "type": "quantitative", "scale": {"type": "log", "domain": [1e-5, 1], "nice": false},
              "axis": {"orient": "bottom", "values": [1e-5,2e-5,3e-5,4e-5,5e-5,6e-5,7e-5,8e-5,9e-5,1e-4,2e-4,3e-4,4e-4,5e-4,6e-4,7e-4,8e-4,9e-4,1e-3,2e-3,3e-3,4e-3,5e-3,6e-3,7e-3,8e-3,9e-3,1e-2,2e-2,3e-2,4e-2,5e-2,6e-2,7e-2,8e-2,9e-2,0.1,0.2,0.3,0.4,0.5,0.6,0.7,0.8,0.9,1], "labels": false, "title": null, "ticks": true, "tickSize": {"condition": {"test": "abs(log(datum.value)/LN10 - round(log(datum.value)/LN10)) < 0.01", "value": -8}, "value": -4}}},
            "y": {"field": "Pv", "type": "quantitative", "scale": {"type": "log", "domain": [1e-4, 10], "nice": false},
              "axis": {"orient": "left", "values": [1e-4,2e-4,3e-4,4e-4,5e-4,6e-4,7e-4,8e-4,9e-4,1e-3,2e-3,3e-3,4e-3,5e-3,6e-3,7e-3,8e-3,9e-3,1e-2,2e-2,3e-2,4e-2,5e-2,6e-2,7e-2,8e-2,9e-2,0.1,0.2,0.3,0.4,0.5,0.6,0.7,0.8,0.9,1,2,3,4,5,6,7,8,9,10], "labels": false, "title": null, "ticks": true, "tickSize": {"condition": {"test": "abs(log(datum.value)/LN10 - round(log(datum.value)/LN10)) < 0.01", "value": -8}, "value": -4}}},
            "detail": {"field": "Pu"},
            "strokeDash": {"field": "method", "type": "ordinal", "scale": {"domain": ["Ananth and Gill", "Present correlation", "Wang and Beckermann"], "range": [[1, 0], [14, 6], [1.3, 2.4]]}},
            "strokeWidth": {"field": "method", "type": "ordinal", "scale": {"domain": ["Ananth and Gill", "Present correlation", "Wang and Beckermann"], "range": [1.2, 3.2, 1.2]}}
          }
        },
        {
          "transform": [{"filter": "datum.Sc == 500 && datum.method == 'Wang and Beckermann'"}],
          "mark": {"type": "line", "color": "#111", "interpolate": "monotone", "clip": true},
          "encoding": {
            "x": {"field": "omega", "type": "quantitative", "scale": {"type": "log", "domain": [1e-5, 1], "nice": false},
              "axis": {"orient": "top", "values": [1e-5,2e-5,3e-5,4e-5,5e-5,6e-5,7e-5,8e-5,9e-5,1e-4,2e-4,3e-4,4e-4,5e-4,6e-4,7e-4,8e-4,9e-4,1e-3,2e-3,3e-3,4e-3,5e-3,6e-3,7e-3,8e-3,9e-3,1e-2,2e-2,3e-2,4e-2,5e-2,6e-2,7e-2,8e-2,9e-2,0.1,0.2,0.3,0.4,0.5,0.6,0.7,0.8,0.9,1], "labels": false, "title": null, "ticks": true, "tickSize": {"condition": {"test": "abs(log(datum.value)/LN10 - round(log(datum.value)/LN10)) < 0.01", "value": -8}, "value": -4}}},
            "y": {"field": "Pv", "type": "quantitative", "scale": {"type": "log", "domain": [1e-4, 10], "nice": false},
              "axis": {"orient": "right", "values": [1e-4,2e-4,3e-4,4e-4,5e-4,6e-4,7e-4,8e-4,9e-4,1e-3,2e-3,3e-3,4e-3,5e-3,6e-3,7e-3,8e-3,9e-3,1e-2,2e-2,3e-2,4e-2,5e-2,6e-2,7e-2,8e-2,9e-2,0.1,0.2,0.3,0.4,0.5,0.6,0.7,0.8,0.9,1,2,3,4,5,6,7,8,9,10], "labels": false, "title": null, "ticks": true, "tickSize": {"condition": {"test": "abs(log(datum.value)/LN10 - round(log(datum.value)/LN10)) < 0.01", "value": -8}, "value": -4}}},
            "detail": {"field": "Pu"},
            "strokeDash": {"field": "method", "type": "ordinal", "scale": {"domain": ["Ananth and Gill", "Present correlation", "Wang and Beckermann"], "range": [[1, 0], [14, 6], [1.3, 2.4]]}},
            "strokeWidth": {"field": "method", "type": "ordinal", "scale": {"domain": ["Ananth and Gill", "Present correlation", "Wang and Beckermann"], "range": [1.2, 3.2, 1.2]}}
          }
        },
        {
          "data": {"name": "notes"},
          "transform": [{"filter": "datum.Sc == 500 && datum.kind == 'tag'"}],
          "mark": {"type": "text", "font": "Liberation Serif", "fontSize": 18, "color": "#111", "align": "center", "baseline": "middle"},
          "encoding": {
            "x": {"field": "omega", "type": "quantitative", "scale": {"type": "log", "domain": [1e-5, 1], "nice": false},
              "axis": {"orient": "bottom", "values": [1e-5, 1e-4, 1e-3, 1e-2, 1e-1, 1], "ticks": false, "labelExpr": "'' + round(log(datum.value)/LN10)", "labelAlign": "left", "labelOffset": 5, "labelPadding": 2, "labelFontSize": 12, "title": null}},
            "y": {"field": "Pv", "type": "quantitative", "scale": {"type": "log", "domain": [1e-4, 10], "nice": false},
              "axis": {"orient": "left", "values": [1e-4, 1e-3, 1e-2, 1e-1, 1, 10], "ticks": false, "labelExpr": "'' + round(log(datum.value)/LN10)", "labelAlign": "left", "labelPadding": 19, "labelOffset": -3.5, "labelFontSize": 12, "title": null}},
            "text": {"field": "label"}
          }
        },
        {
          "data": {"name": "notes"},
          "transform": [{"filter": "datum.Sc == 500 && datum.kind == 'sub'"}],
          "mark": {"type": "text", "font": "Liberation Serif", "fontSize": 15, "color": "#111", "align": "center", "baseline": "middle"},
          "encoding": {
            "x": {"field": "omega", "type": "quantitative", "scale": {"type": "log", "domain": [1e-5, 1], "nice": false}, "axis": null},
            "y": {"field": "Pv", "type": "quantitative", "scale": {"type": "log", "domain": [1e-4, 10], "nice": false}, "axis": null},
            "text": {"field": "label"}
          }
        },
        {
          "data": {"name": "notes"},
          "transform": [{"filter": "datum.Sc == 500 && datum.kind == 'sc'"}],
          "mark": {"type": "text", "font": "Liberation Serif", "fontSize": 18, "color": "#111", "align": "left", "baseline": "middle"},
          "encoding": {
            "x": {"field": "omega", "type": "quantitative", "scale": {"type": "log", "domain": [1e-5, 1], "nice": false}, "axis": null},
            "y": {"field": "Pv", "type": "quantitative", "scale": {"type": "log", "domain": [1e-4, 10], "nice": false}, "axis": null},
            "text": {"field": "label"}
          }
        }
      ]
    }
  ]
}
